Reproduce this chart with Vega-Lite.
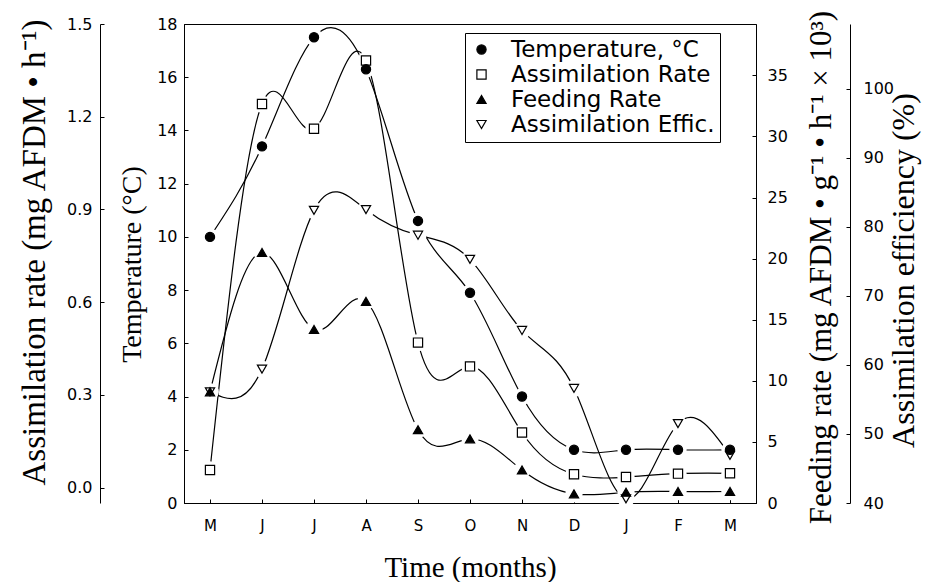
{
  "$schema": "https://vega.github.io/schema/vega-lite/v6.json",
  "width": 572,
  "height": 479,
  "autosize": {"type": "none"},
  "padding": {"left": 184, "top": 24, "right": 184, "bottom": 79},
  "background": "white",
  "config": {
    "view": {"stroke": "black", "strokeWidth": 1},
    "axis": {
      "labelFont": "DejaVu Sans", "labelFontSize": 16, "labelColor": "black",
      "titleFont": "Liberation Serif", "titleFontWeight": "normal", "titleColor": "black",
      "domainColor": "black", "tickColor": "black", "grid": false, "zindex": 1,
      "tickSize": -4, "domainWidth": 1, "tickWidth": 1
    },
    "legend": {
      "orient": "none", "legendX": 281, "legendY": 9, "padding": 5,
      "strokeColor": "black", "fillColor": "white",
      "labelFont": "DejaVu Sans", "labelFontSize": 23, "labelColor": "black", "labelLimit": 400,
      "labelOffset": 18, "symbolOffset": 0, "rowPadding": 1, "symbolSize": 85,
      "symbolStrokeColor": "black", "symbolStrokeWidth": 1.2
    }
  },
  "datasets": {
    "d": [
      {"month": "May", "i": 0, "series": "Temperature, °C", "value": 10.0},
      {"month": "Jun", "i": 1, "series": "Temperature, °C", "value": 13.4},
      {"month": "Jul", "i": 2, "series": "Temperature, °C", "value": 17.5},
      {"month": "Aug", "i": 3, "series": "Temperature, °C", "value": 16.3},
      {"month": "Sep", "i": 4, "series": "Temperature, °C", "value": 10.6},
      {"month": "Oct", "i": 5, "series": "Temperature, °C", "value": 7.9},
      {"month": "Nov", "i": 6, "series": "Temperature, °C", "value": 4.0},
      {"month": "Dec", "i": 7, "series": "Temperature, °C", "value": 2.0},
      {"month": "Jan", "i": 8, "series": "Temperature, °C", "value": 2.0},
      {"month": "Feb", "i": 9, "series": "Temperature, °C", "value": 2.0},
      {"month": "Mar", "i": 10, "series": "Temperature, °C", "value": 2.0},
      {"month": "May", "i": 0, "series": "Assimilation Rate", "value": 0.057},
      {"month": "Jun", "i": 1, "series": "Assimilation Rate", "value": 1.241},
      {"month": "Jul", "i": 2, "series": "Assimilation Rate", "value": 1.161},
      {"month": "Aug", "i": 3, "series": "Assimilation Rate", "value": 1.382},
      {"month": "Sep", "i": 4, "series": "Assimilation Rate", "value": 0.469},
      {"month": "Oct", "i": 5, "series": "Assimilation Rate", "value": 0.392},
      {"month": "Nov", "i": 6, "series": "Assimilation Rate", "value": 0.178},
      {"month": "Dec", "i": 7, "series": "Assimilation Rate", "value": 0.043},
      {"month": "Jan", "i": 8, "series": "Assimilation Rate", "value": 0.034},
      {"month": "Feb", "i": 9, "series": "Assimilation Rate", "value": 0.045},
      {"month": "Mar", "i": 10, "series": "Assimilation Rate", "value": 0.046},
      {"month": "May", "i": 0, "series": "Feeding Rate", "value": 9.1},
      {"month": "Jun", "i": 1, "series": "Feeding Rate", "value": 20.5},
      {"month": "Jul", "i": 2, "series": "Feeding Rate", "value": 14.2},
      {"month": "Aug", "i": 3, "series": "Feeding Rate", "value": 16.5},
      {"month": "Sep", "i": 4, "series": "Feeding Rate", "value": 6.0},
      {"month": "Oct", "i": 5, "series": "Feeding Rate", "value": 5.25},
      {"month": "Nov", "i": 6, "series": "Feeding Rate", "value": 2.7},
      {"month": "Dec", "i": 7, "series": "Feeding Rate", "value": 0.75},
      {"month": "Jan", "i": 8, "series": "Feeding Rate", "value": 0.88},
      {"month": "Feb", "i": 9, "series": "Feeding Rate", "value": 0.94},
      {"month": "Mar", "i": 10, "series": "Feeding Rate", "value": 0.94},
      {"month": "May", "i": 0, "series": "Assimilation Effic.", "value": 56.1},
      {"month": "Jun", "i": 1, "series": "Assimilation Effic.", "value": 59.4},
      {"month": "Jul", "i": 2, "series": "Assimilation Effic.", "value": 82.4},
      {"month": "Aug", "i": 3, "series": "Assimilation Effic.", "value": 82.5},
      {"month": "Sep", "i": 4, "series": "Assimilation Effic.", "value": 78.8},
      {"month": "Oct", "i": 5, "series": "Assimilation Effic.", "value": 75.3},
      {"month": "Nov", "i": 6, "series": "Assimilation Effic.", "value": 65.0},
      {"month": "Dec", "i": 7, "series": "Assimilation Effic.", "value": 56.6},
      {"month": "Jan", "i": 8, "series": "Assimilation Effic.", "value": 40.6},
      {"month": "Feb", "i": 9, "series": "Assimilation Effic.", "value": 51.5},
      {"month": "Mar", "i": 10, "series": "Assimilation Effic.", "value": 46.9}
    ]
  },
  "data": {"name": "d"},
  "encoding": {
    "x": {
      "field": "month", "type": "ordinal",
      "scale": {"type": "point", "padding": 0.5, "domain": ["May","Jun","Jul","Aug","Sep","Oct","Nov","Dec","Jan","Feb","Mar"]},
      "axis": {
        "title": "Time (months)", "titleFont": "Liberation Serif", "titleFontSize": 29, "titleY": 73, "titleBaseline": "alphabetic",
        "labelExpr": "substring(datum.label, 0, 1)", "labelAngle": 0, "labelFontSize": 15, "labelPadding": 19
      }
    }
  },
  "layer": [
    {
      "transform": [{"filter": {"field": "series", "equal": "Temperature, °C"}}],
      "mark": {"type": "line", "interpolate": "natural", "color": "black", "strokeWidth": 1.2},
      "encoding": {
        "y": {"field": "value", "type": "quantitative", "scale": {"domain": [0, 18], "nice": false, "zero": false},
          "axis": {"orient": "left", "offset": 0, "values": [0,2,4,6,8,10,12,14,16,18], "labelPadding": 11,
            "title": "Temperature (°C)", "titleFont": "Liberation Serif", "titleFontWeight": "normal", "titleFontSize": 28, "titleAngle": -90, "titleBaseline": "alphabetic",
            "titleX": -44, "titleY": 240, "titleAlign": "center"}},
        "order": {"field": "i", "type": "quantitative"}
      }
    },
    {
      "transform": [{"filter": {"field": "series", "equal": "Assimilation Rate"}}],
      "mark": {"type": "line", "interpolate": "natural", "color": "black", "strokeWidth": 1.2},
      "encoding": {
        "y": {"field": "value", "type": "quantitative", "scale": {"domain": [-0.05, 1.5], "nice": false, "zero": false},
          "axis": {"orient": "left", "offset": 84, "values": [0,0.3,0.6,0.9,1.2,1.5], "format": ".1f", "labelPadding": 12,
            "title": "Assimilation rate (mg AFDM • h⁻¹)", "titleFont": "Liberation Serif", "titleFontWeight": "normal", "titleFontSize": 33, "titleAngle": -90, "titleBaseline": "alphabetic",
            "titleX": -56, "titleY": 228, "titleAlign": "center", "zindex": 0}},
        "order": {"field": "i", "type": "quantitative"}
      }
    },
    {
      "transform": [{"filter": {"field": "series", "equal": "Feeding Rate"}}],
      "mark": {"type": "line", "interpolate": "natural", "color": "black", "strokeWidth": 1.2},
      "encoding": {
        "y": {"field": "value", "type": "quantitative", "scale": {"domain": [0, 39.2], "nice": false, "zero": false},
          "axis": {"orient": "right", "offset": 0, "values": [0,5,10,15,20,25,30,35], "labelPadding": 15,
            "title": "Feeding rate (mg AFDM • g⁻¹ • h⁻¹ × 10³)", "titleFont": "Liberation Serif", "titleFontWeight": "normal", "titleFontSize": 31, "titleAngle": -90, "titleBaseline": "alphabetic",
            "titleX": 74, "titleY": 243, "titleAlign": "center"}},
        "order": {"field": "i", "type": "quantitative"}
      }
    },
    {
      "transform": [{"filter": {"field": "series", "equal": "Assimilation Effic."}}],
      "mark": {"type": "line", "interpolate": "natural", "color": "black", "strokeWidth": 1.2},
      "encoding": {
        "y": {"field": "value", "type": "quantitative", "scale": {"domain": [40, 109.4], "nice": false, "zero": false},
          "axis": {"orient": "right", "offset": 94, "values": [40,50,60,70,80,90,100], "labelPadding": 17,
            "title": "Assimilation efficiency (%)", "titleFont": "Liberation Serif", "titleFontWeight": "normal", "titleFontSize": 32, "titleAngle": -90, "titleBaseline": "alphabetic",
            "titleX": 63, "titleY": 246, "titleAlign": "center", "zindex": 0}},
        "order": {"field": "i", "type": "quantitative"}
      }
    },
    {
      "transform": [{"filter": {"field": "series", "equal": "Temperature, °C"}}],
      "mark": {"type": "point", "filled": true, "color": "white", "size": 300, "opacity": 1},
      "encoding": {"y": {"field": "value", "type": "quantitative", "scale": {"domain": [0, 18], "nice": false, "zero": false}, "axis": null}}
    },
    {
      "transform": [{"filter": {"field": "series", "equal": "Assimilation Rate"}}],
      "mark": {"type": "point", "filled": true, "color": "white", "size": 300, "opacity": 1},
      "encoding": {"y": {"field": "value", "type": "quantitative", "scale": {"domain": [-0.05, 1.5], "nice": false, "zero": false}, "axis": null}}
    },
    {
      "transform": [{"filter": {"field": "series", "equal": "Feeding Rate"}}],
      "mark": {"type": "point", "filled": true, "color": "white", "size": 300, "opacity": 1},
      "encoding": {"y": {"field": "value", "type": "quantitative", "scale": {"domain": [0, 39.2], "nice": false, "zero": false}, "axis": null}}
    },
    {
      "transform": [{"filter": {"field": "series", "equal": "Assimilation Effic."}}],
      "mark": {"type": "point", "filled": true, "color": "white", "size": 300, "opacity": 1},
      "encoding": {"y": {"field": "value", "type": "quantitative", "scale": {"domain": [40, 109.4], "nice": false, "zero": false}, "axis": null}}
    },
    {
      "transform": [{"filter": {"field": "series", "equal": "Assimilation Effic."}}],
      "mark": {"type": "point", "filled": true, "strokeWidth": 1.2, "size": 85, "opacity": 1},
      "encoding": {
        "y": {"field": "value", "type": "quantitative", "scale": {"domain": [40, 109.4], "nice": false, "zero": false}, "axis": null},
        "shape": {"field": "series", "type": "nominal", "scale": {"domain": ["Temperature, °C","Assimilation Rate","Feeding Rate","Assimilation Effic."], "range": ["circle","square","triangle-up","triangle-down"]}, "legend": {"title": null}},
        "fill": {"field": "series", "type": "nominal", "scale": {"domain": ["Temperature, °C","Assimilation Rate","Feeding Rate","Assimilation Effic."], "range": ["black","white","black","white"]}, "legend": {"title": null}},
        "stroke": {"field": "series", "type": "nominal", "scale": {"domain": ["Temperature, °C","Assimilation Rate","Feeding Rate","Assimilation Effic."], "range": ["black","black","black","black"]}, "legend": {"title": null}}
      }
    },
    {
      "transform": [{"filter": {"field": "series", "equal": "Assimilation Rate"}}],
      "mark": {"type": "point", "filled": true, "strokeWidth": 1.2, "size": 85, "opacity": 1},
      "encoding": {
        "y": {"field": "value", "type": "quantitative", "scale": {"domain": [-0.05, 1.5], "nice": false, "zero": false}, "axis": null},
        "shape": {"field": "series", "type": "nominal"},
        "fill": {"field": "series", "type": "nominal"},
        "stroke": {"field": "series", "type": "nominal"}
      }
    },
    {
      "transform": [{"filter": {"field": "series", "equal": "Feeding Rate"}}],
      "mark": {"type": "point", "filled": true, "strokeWidth": 1.2, "size": 85, "opacity": 1},
      "encoding": {
        "y": {"field": "value", "type": "quantitative", "scale": {"domain": [0, 39.2], "nice": false, "zero": false}, "axis": null},
        "shape": {"field": "series", "type": "nominal"},
        "fill": {"field": "series", "type": "nominal"},
        "stroke": {"field": "series", "type": "nominal"}
      }
    },
    {
      "transform": [{"filter": {"field": "series", "equal": "Temperature, °C"}}],
      "mark": {"type": "point", "filled": true, "strokeWidth": 1.2, "size": 85, "opacity": 1},
      "encoding": {
        "y": {"field": "value", "type": "quantitative", "scale": {"domain": [0, 18], "nice": false, "zero": false}, "axis": null},
        "shape": {"field": "series", "type": "nominal"},
        "fill": {"field": "series", "type": "nominal"},
        "stroke": {"field": "series", "type": "nominal"}
      }
    }
  ],
  "resolve": {"scale": {"y": "independent"}}
}
